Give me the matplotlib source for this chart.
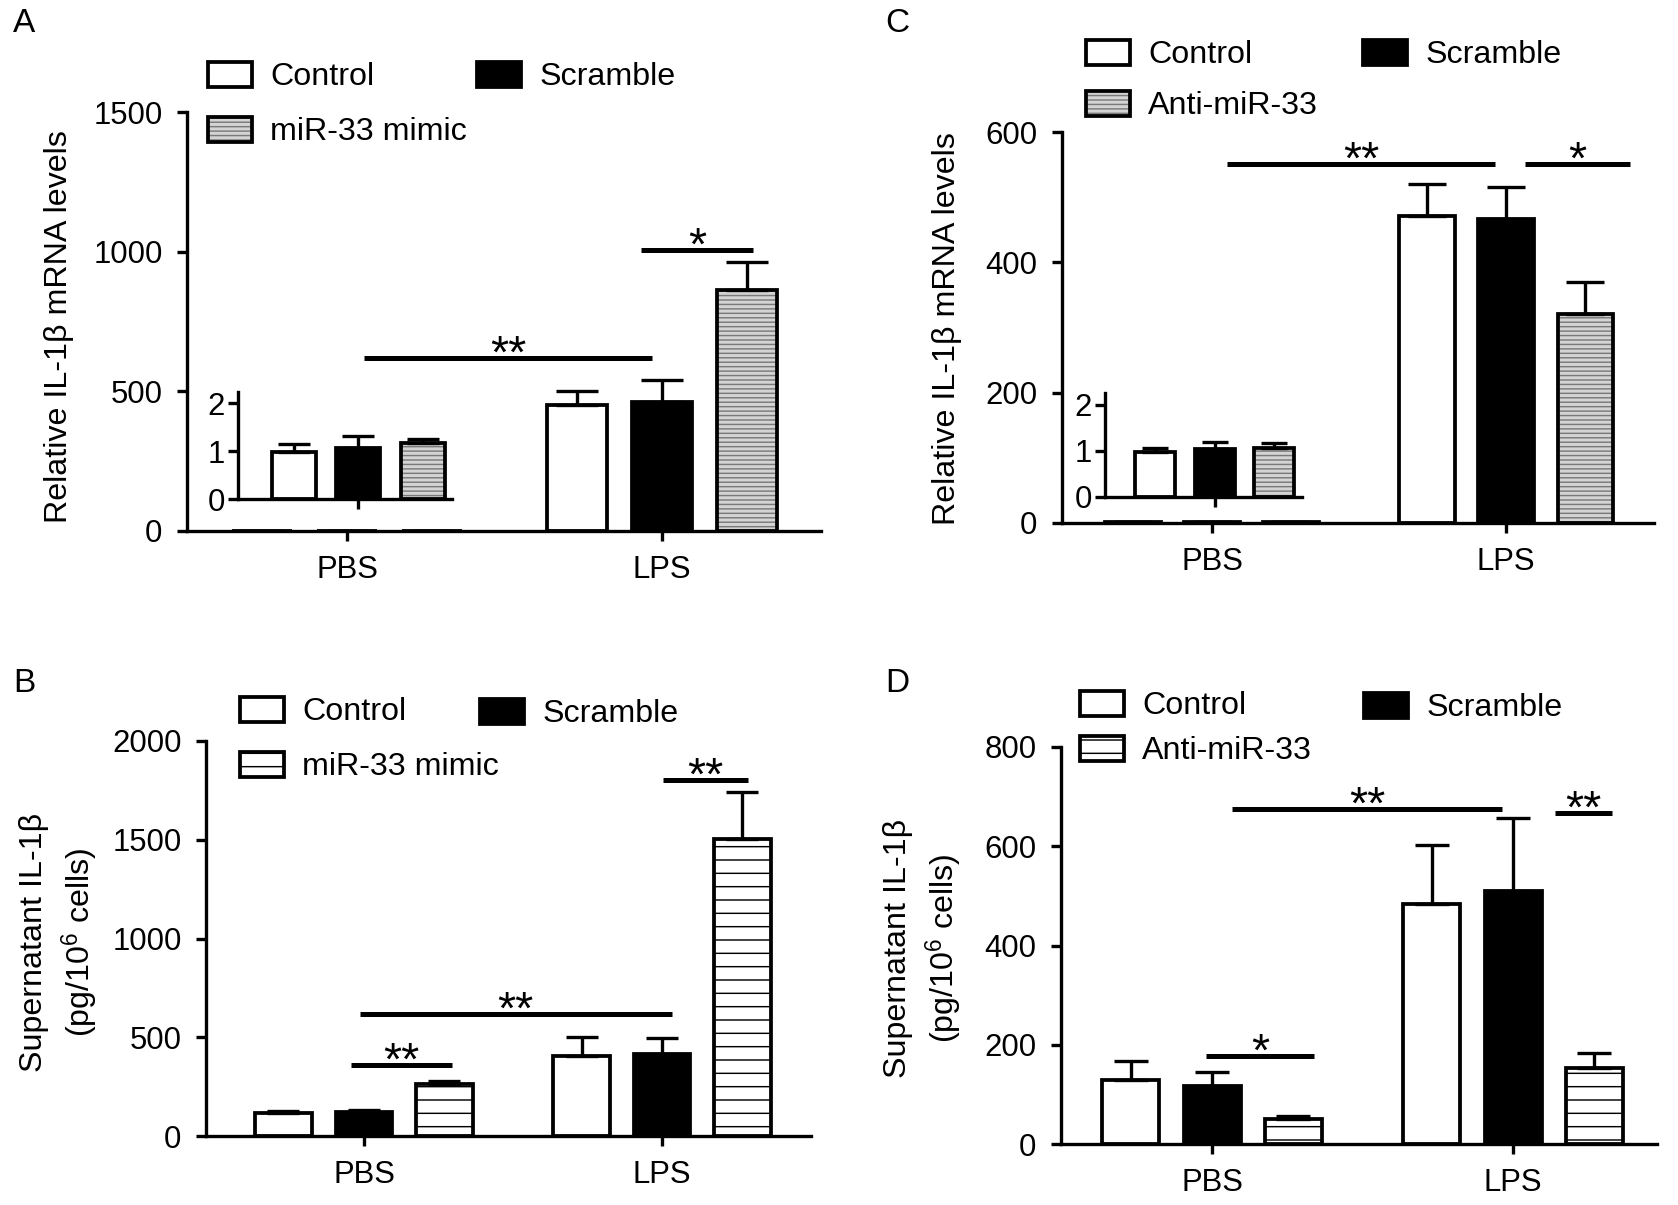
import matplotlib
matplotlib.use("Agg")
import matplotlib.pyplot as plt
from matplotlib.patches import Patch
import numpy as np

plt.rcParams["font.family"] = ["Liberation Sans", "DejaVu Sans"]
plt.rcParams["mathtext.fontset"] = "custom"
plt.rcParams["mathtext.rm"] = "Liberation Sans"
plt.rcParams["mathtext.it"] = "Liberation Sans:italic"
plt.rcParams["hatch.linewidth"] = 1.3

W, H, DPI = 1678, 1205, 80

groups = ["PBS", "LPS"]

# A - IL-1b mRNA, miR-33 mimic
a_series = ["Control", "Scramble", "miR-33 mimic"]
a_pbs = [0.98, 1.07, 1.17]
a_pbs_err = [0.17, 0.24, 0.09]
a_lps = [452, 463, 863]
a_lps_err = [48, 78, 99]
a_yticks = [0, 500, 1000, 1500]

# B - supernatant IL-1b, miR-33 mimic
b_series = ["Control", "Scramble", "miR-33 mimic"]
b_pbs = [115, 121, 261]
b_pbs_err = [10, 9, 19]
b_lps = [403, 417, 1504]
b_lps_err = [97, 78, 239]
b_yticks = [0, 500, 1000, 1500, 2000]

# C - IL-1b mRNA, anti-miR-33
c_series = ["Control", "Scramble", "Anti-miR-33"]
c_pbs = [0.97, 1.05, 1.07]
c_pbs_err = [0.10, 0.15, 0.11]
c_lps = [471, 466, 320]
c_lps_err = [49, 49, 50]
c_yticks = [0, 200, 400, 600]

# D - supernatant IL-1b, anti-miR-33
d_series = ["Control", "Scramble", "Anti-miR-33"]
d_pbs = [128, 117, 50]
d_pbs_err = [39, 29, 6]
d_lps = [484, 509, 153]
d_lps_err = [119, 148, 31]
d_yticks = [0, 200, 400, 600, 800]

inset_yticks = [0, 1, 2]

LW = 3.4      # bar edges
SP = 3.0      # spines / ticks
offs = [-0.27, 0.0, 0.27]
GREY = ("#d4d4d4", "#7a7a7a", "---")
STRIPE = ("white", "black", "-")

fig = plt.figure(figsize=(W / DPI, H / DPI), dpi=DPI)


def px_axes(left, right, bottom, top):
    return fig.add_axes([left / W, 1 - bottom / H, (right - left) / W, (bottom - top) / H])


def draw_bars(ax, pbs, pbs_err, lps, lps_err, shade, width, cap, xs=(0, 1)):
    n = len(xs)
    for i in range(3):
        x = np.arange(n) + offs[i]
        v = [pbs[i], lps[i]][:n]
        e = [pbs_err[i], lps_err[i]][:n]
        if i == 0:
            ax.bar(x, v, width, color="white", edgecolor="k", lw=LW, zorder=2)
        elif i == 1:
            ax.bar(x, v, width, color="black", edgecolor="k", lw=LW, zorder=2)
        else:
            fc, hc, hp = shade
            ax.bar(x, v, width, color=fc, edgecolor=hc, hatch=hp, lw=0, zorder=2)
            ax.bar(x, v, width, fill=False, edgecolor="k", lw=LW, zorder=3)
        ax.errorbar(x, v, yerr=[np.zeros(n), e], fmt="none", ecolor="k",
                    elinewidth=3, capsize=cap, capthick=3, zorder=4)


def style(ax, xlim, yticks, ytop, inset=False):
    ax.set_xlim(xlim)
    ax.set_ylim(0, ytop)
    for s in ["top", "right"]:
        ax.spines[s].set_visible(False)
    for s in ["left", "bottom"]:
        ax.spines[s].set_linewidth(SP)
    ax.set_yticks(yticks)
    if inset:
        ax.set_xticks([0])
        ax.set_xticklabels([])
        ax.patch.set_alpha(0)
        ax.tick_params(axis="y", pad=3)
    else:
        ax.set_xticks([0, 1])
        ax.set_xticklabels(groups)
        ax.tick_params(axis="y", pad=13)
        ax.tick_params(axis="x", pad=13)
    ax.tick_params(width=SP, length=9, labelsize=28)


def sig(ax, x1, x2, y, label):
    ax.plot([x1, x2], [y, y], color="k", lw=4.5, solid_capstyle="butt",
            clip_on=False, zorder=5)
    ax.annotate(label, xy=((x1 + x2) / 2, y), xytext=(0, -9),
                textcoords="offset points", ha="center", va="baseline",
                fontsize=42, zorder=5)


def handle(i, shade):
    if i == 0:
        return Patch(facecolor="white", edgecolor="k", lw=LW)
    if i == 1:
        return Patch(facecolor="black", edgecolor="k", lw=LW)
    fc, hc, hp = shade
    return (Patch(facecolor=fc, edgecolor=hc, hatch=hp, lw=0),
            Patch(fill=False, edgecolor="k", lw=LW))


def legend(series, shade, spots):
    for i, (x, y) in enumerate(spots):
        fig.legend([handle(i, shade)], [series[i]], loc="center left",
                   bbox_to_anchor=(x / W, 1 - y / H), frameon=False,
                   borderpad=0, borderaxespad=0, handlelength=1.37,
                   handleheight=0.84, handletextpad=0.56, fontsize=29)


# ---- A ----
axA = px_axes(187, 821, 531, 112)
draw_bars(axA, a_pbs, a_pbs_err, a_lps, a_lps_err, GREY, 0.19, 19)
style(axA, (-0.508, 1.505), a_yticks, 1500)
sig(axA, 0.054, 0.968, 620, "**")
sig(axA, 0.932, 1.29, 1007, "*")
insA = px_axes(238, 452, 499, 392)
draw_bars(insA, a_pbs, a_pbs_err, a_lps, a_lps_err, GREY, 0.185, 14, xs=(0,))
style(insA, (-0.504, 0.392), inset_yticks, 2.23, inset=True)
legend(a_series, GREY, [(208, 77), (477, 77), (208, 132)])

# ---- C ----
axC = px_axes(1062, 1654, 523, 132)
draw_bars(axC, c_pbs, c_pbs_err, c_lps, c_lps_err, GREY, 0.19, 17)
style(axC, (-0.51, 1.503), c_yticks, 600)
sig(axC, 0.05, 0.964, 551, "**")
sig(axC, 1.063, 1.421, 551, "*")
insC = px_axes(1105, 1302, 497, 393)
draw_bars(insC, c_pbs, c_pbs_err, c_lps, c_lps_err, GREY, 0.18, 12, xs=(0,))
style(insC, (-0.496, 0.395), inset_yticks, 2.26, inset=True)
legend(c_series, GREY, [(1086, 55), (1363, 55), (1086, 106)])

# ---- B ----
axB = px_axes(206, 811, 1136, 741)
draw_bars(axB, b_pbs, b_pbs_err, b_lps, b_lps_err, STRIPE, 0.19, 14)
style(axB, (-0.53, 1.50), b_yticks, 2000)
sig(axB, -0.045, 0.296, 360, "**")
sig(axB, -0.014, 1.032, 617, "**")
sig(axB, 1.002, 1.287, 1805, "**")
legend(b_series, STRIPE, [(240, 712), (480, 714), (240, 767)])

# ---- D ----
axD = px_axes(1061, 1657, 1144, 747)
draw_bars(axD, d_pbs, d_pbs_err, d_lps, d_lps_err, STRIPE, 0.19, 15)
style(axD, (-0.502, 1.478), d_yticks, 800)
sig(axD, -0.021, 0.339, 177, "*")
sig(axD, 0.067, 0.964, 676, "**")
sig(axD, 1.139, 1.329, 667, "**")
legend(d_series, STRIPE, [(1080, 706), (1364, 708), (1080, 751)])

# axis titles and panel letters
ylab_mrna = "Relative IL-1β mRNA levels"
ylab_sup = "Supernatant IL-1β\n(pg/10$^6$ cells)"
for x, y, t in [(59, 327, ylab_mrna), (947, 329, ylab_mrna),
                (60, 942, ylab_sup), (924, 948, ylab_sup)]:
    fig.text(x / W, 1 - y / H, t, rotation=90, ha="center", va="center",
             multialignment="center", linespacing=1.35, fontsize=29)

for x, y, t in [(24, 24, "A"), (24, 683, "B"), (897, 24, "C"), (897, 683, "D")]:
    fig.text(x / W, 1 - y / H, t, ha="center", va="center", fontsize=30)

fig.savefig("out.png", dpi=DPI)
